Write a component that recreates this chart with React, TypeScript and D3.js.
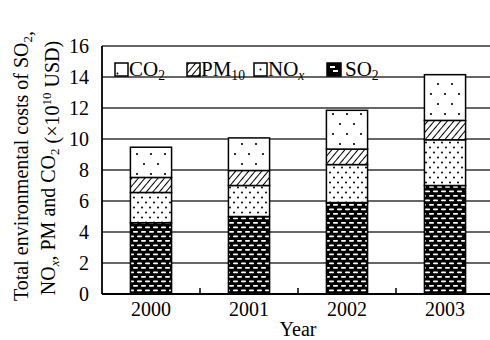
import * as d3 from "d3";

const years = ["2000", "2001", "2002", "2003"];
const so2 = [4.6, 5.0, 5.9, 7.0];
const nox = [1.95, 2.0, 2.45, 2.95];
const pm10 = [0.97, 0.97, 1.0, 1.25];
const co2 = [1.95, 2.1, 2.5, 2.95];
const yTicks = [0, 2, 4, 6, 8, 10, 12, 14, 16];

const seriesKeys = ["so2", "nox", "pm10", "co2"];
const fills: Record<string, string> = {
  so2: "url(#pSo2)",
  nox: "url(#pNox)",
  pm10: "url(#pPm)",
  co2: "url(#pCo2)",
};

const W = 490;
const H = 340;
const left = 102;
const right = 494;
const top = 46;
const bottom = 294;
const font = "'Liberation Serif', 'Times New Roman', serif";

// subscript helper
function Sub({ t, s }: { t: string; s: string }) {
  return (
    <>
      <tspan>{t}</tspan>
      <tspan dy={4} fontSize="0.65em">{s}</tspan>
      <tspan dy={-4}>{""}</tspan>
    </>
  );
}

export default function App() {
  const rows = years.map((year, i) => ({
    year,
    so2: so2[i],
    nox: nox[i],
    pm10: pm10[i],
    co2: co2[i],
  }));
  const stacked = d3.stack<any>().keys(seriesKeys)(rows);

  const x = d3
    .scaleBand<string>()
    .domain(years)
    .range([left, right])
    .paddingInner(0.58)
    .paddingOuter(0.29);
  const y = d3.scaleLinear().domain([0, 16]).range([bottom, top]);
  const step = x.step();

  return (
    <svg
      width={W}
      height={H}
      style={{ position: "absolute", left: 0, top: 0, background: "#fff" }}
      fontFamily={font}
    >
      <defs>
        <pattern id="pSo2" patternUnits="userSpaceOnUse" width={8} height={9}>
          <rect width={8} height={9} fill="#000" />
          <rect x={1} y={1.5} width={5} height={1.8} fill="#fff" rx={0.8} />
          <rect x={5} y={6} width={5} height={1.8} fill="#fff" rx={0.8} />
          <rect x={-3} y={6} width={5} height={1.8} fill="#fff" rx={0.8} />
        </pattern>
        <pattern id="pNox" patternUnits="userSpaceOnUse" width={8} height={10}>
          <rect width={8} height={10} fill="#fff" />
          <circle cx={2} cy={2.5} r={1} fill="#000" />
          <circle cx={6} cy={7.5} r={1} fill="#000" />
        </pattern>
        <pattern id="pCo2" patternUnits="userSpaceOnUse" width={14} height={20}>
          <rect width={14} height={20} fill="#fff" />
          <circle cx={4} cy={4} r={1.1} fill="#000" />
          <circle cx={11} cy={14} r={1.1} fill="#000" />
        </pattern>
        <pattern
          id="pPm"
          patternUnits="userSpaceOnUse"
          width={5}
          height={5}
          patternTransform="rotate(40)"
        >
          <rect width={5} height={5} fill="#fff" />
          <line x1={0} y1={0} x2={0} y2={5} stroke="#000" strokeWidth={2} />
        </pattern>
      </defs>

      {/* gridlines */}
      {yTicks.map((t) => (
        <line
          key={"g" + t}
          x1={left}
          x2={W}
          y1={y(t)}
          y2={y(t)}
          stroke="#333"
          strokeWidth={t === 0 ? 1.8 : 1.4}
        />
      ))}

      {/* bars */}
      {stacked.map((s) => (
        <g key={s.key} fill={fills[s.key]} stroke="#000" strokeWidth={1.5}>
          {s.map((d, i) => (
            <rect
              key={i}
              x={x(years[i])}
              y={y(d[1])}
              width={x.bandwidth()}
              height={y(d[0]) - y(d[1])}
            />
          ))}
        </g>
      ))}

      {/* axes */}
      <line x1={left} x2={left} y1={top} y2={bottom} stroke="#000" strokeWidth={1.8} />
      <line x1={left} x2={W} y1={bottom} y2={bottom} stroke="#000" strokeWidth={1.8} />
      {years.slice(0, -1).map((yr) => {
        const tx = (x(yr) as number) + x.bandwidth() + (step - x.bandwidth()) / 2;
        return (
          <line key={"t" + yr} x1={tx} x2={tx} y1={bottom} y2={bottom - 6} stroke="#000" strokeWidth={1.5} />
        );
      })}

      {yTicks.map((t) => (
        <text key={"yl" + t} x={89} y={y(t) + 7} textAnchor="end" fontSize={20}>
          {t}
        </text>
      ))}
      {years.map((yr) => (
        <text
          key={"xl" + yr}
          x={(x(yr) as number) + x.bandwidth() / 2}
          y={316}
          textAnchor="middle"
          fontSize={20}
        >
          {yr}
        </text>
      ))}
      <text x={298} y={336} textAnchor="middle" fontSize={20}>
        Year
      </text>

      <g transform="translate(28,166) rotate(-90)">
        <text textAnchor="middle" fontSize={20}>
          Total environmental costs of <Sub t="SO" s="2" />,
        </text>
      </g>
      <g transform="translate(55,168) rotate(-90)">
        <text textAnchor="middle" fontSize={20}>
          NO<tspan dy={4} fontSize="0.65em" fontStyle="italic">x</tspan>
          <tspan dy={-4}>, PM and </tspan>
          <Sub t="CO" s="2" /> (×10<tspan dy={-8} fontSize="0.65em">10</tspan>
          <tspan dy={8}> USD)</tspan>
        </text>
      </g>

      {/* legend */}
      <g fontSize={21}>
        <rect x={115} y={63} width={13} height={13} fill="#fff" stroke="#000" strokeWidth={1.5} />
        <circle cx={117.5} cy={73.5} r={1} fill="#000" />
        <text x={129} y={76}>
          <Sub t="CO" s="2" />
        </text>
        <rect x={187} y={63} width={13} height={13} fill="url(#pPm)" stroke="#000" strokeWidth={1.5} />
        <text x={201} y={76}>
          <Sub t="PM" s="10" />
        </text>
        <rect x={254} y={63} width={13} height={13} fill="#fff" stroke="#000" strokeWidth={1.5} />
        <circle cx={260.5} cy={69.5} r={1} fill="#000" />
        <text x={268} y={76}>
          NO<tspan dy={4} fontSize="0.65em" fontStyle="italic">x</tspan>
        </text>
        <rect x={327} y={63} width={14} height={13} fill="#000" stroke="#000" strokeWidth={1.5} />
        <rect x={330} y={66} width={5} height={2} fill="#fff" />
        <rect x={333} y={70} width={5} height={2} fill="#fff" />
        <text x={345} y={76}>
          <Sub t="SO" s="2" />
        </text>
      </g>
    </svg>
  );
}
